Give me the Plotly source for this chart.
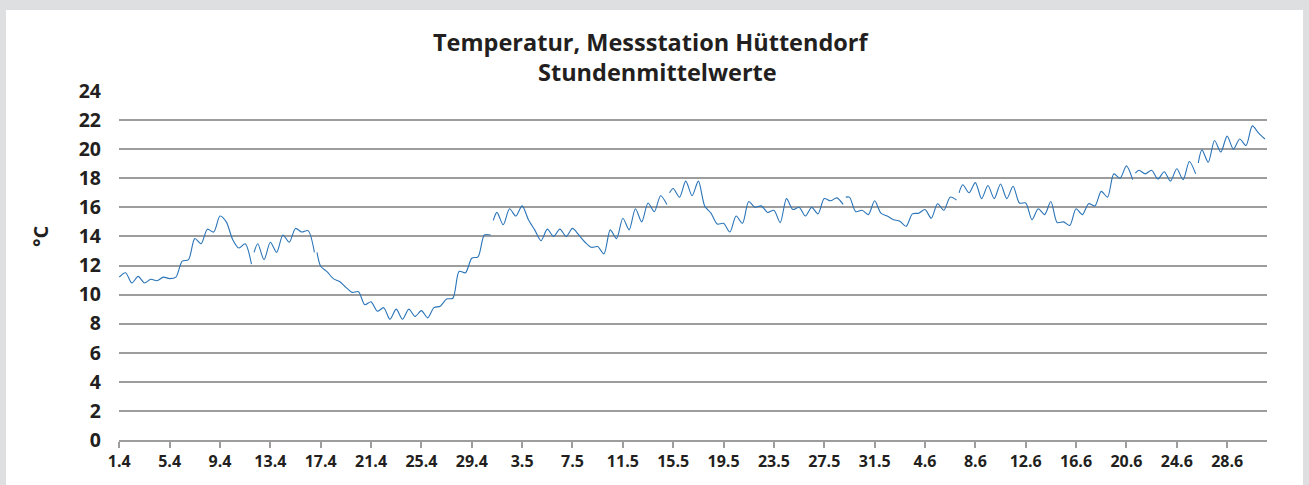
import pandas as pd
import plotly.graph_objects as go

# Hourly-mean temperature, sampled every 12 hours from 1 April 00:00
start_time = "2023-04-01 00:00"
temps = [
    11.2, 11.5, 10.8, 11.25, 10.8, 11.05, 10.95, 11.2, 11.1, 11.2,
    12.3, 12.4, 13.85, 13.5, 14.5, 14.3, 15.4, 15.0, 13.8, 13.2,
    13.5, 12.1, 13.5, 12.4, 13.6, 12.9, 14.1, 13.6, 14.55, 14.3,
    14.4, 12.9, 11.95, 11.58, 11.1, 10.9, 10.5, 10.15, 10.2, 9.3,
    9.5, 8.85, 9.1, 8.3, 9.0, 8.3, 9.0, 8.5, 8.9, 8.4,
    9.1, 9.2, 9.7, 9.75, 11.6, 11.5, 12.5, 12.6, 14.1, 14.1,
    15.65, 14.8, 15.9, 15.4, 16.1, 15.15, 14.45, 13.7, 14.5, 14.0,
    14.5, 14.0, 14.55, 14.1, 13.6, 13.25, 13.3, 12.8, 14.45, 13.85,
    15.25, 14.45, 15.9, 15.0, 16.3, 15.7, 16.8, 16.2, 17.3, 16.7,
    17.8, 16.8, 17.8, 16.1, 15.6, 14.85, 14.9, 14.3, 15.4, 14.9,
    16.4, 16.0, 16.1, 15.65, 15.8, 14.95, 16.6, 15.85, 16.0, 15.4,
    16.0, 15.55, 16.6, 16.45, 16.65, 16.2, 16.7, 15.7, 15.8, 15.5,
    16.45, 15.6, 15.4, 15.15, 15.05, 14.7, 15.55, 15.6, 15.85, 15.25,
    16.25, 15.8, 16.7, 16.5, 17.55, 17.0, 17.7, 16.6, 17.5, 16.6,
    17.6, 16.6, 17.45, 16.3, 16.3, 15.15, 15.9, 15.5, 16.4, 14.95,
    15.0, 14.75, 15.9, 15.5, 16.25, 16.1, 17.1, 16.7, 18.3, 18.0,
    18.85, 17.9, 18.55, 18.3, 18.55, 17.95, 18.45, 17.8, 18.65, 17.9,
    19.15, 18.3, 19.95, 19.1, 20.6, 19.8, 20.9, 20.0, 20.7, 20.25,
    21.6, 21.1, 20.7,
]
# recording gaps: sample index after which the logger dropped out,
# and the first hourly mean once recording resumed (5 h later)
gap_after = [21, 31, 59, 87, 115, 133, 161, 171]
resume_temps = [12.9, 12.9, 15.1, 17.0, 16.7, 17.0, 18.35, 19.05]
RESUME_HOURS = 5

tick_labels = ["1.4", "5.4", "9.4", "13.4", "17.4", "21.4", "25.4", "29.4",
               "3.5", "7.5", "11.5", "15.5", "19.5", "23.5", "27.5", "31.5",
               "4.6", "8.6", "12.6", "16.6", "20.6", "24.6", "28.6"]
y_ticks = list(range(0, 25, 2))

times = pd.date_range(start_time, periods=len(temps), freq="12h")
resume = dict(zip(gap_after, resume_temps))
xs, ys = [], []
for i, (t, v) in enumerate(zip(times, temps)):
    xs.append(t)
    ys.append(v)
    if i in resume:
        xs.append(t + pd.Timedelta(hours=2))
        ys.append(None)
        xs.append(t + pd.Timedelta(hours=RESUME_HOURS))
        ys.append(resume[i])

tick_dates = pd.date_range(start_time, periods=len(tick_labels), freq="4D")

W, H = 1309, 485
L, R, T, B = 119, 42, 91, 45
PW, PH = W - L - R, H - T - B

def px_x(p):
    return (p - L) / PW

def px_y(p):
    return 1 - (p - T) / PH

FONT = "Open Sans"
TXT = "#231f20"
GRID = "#9d9d9d"

fig = go.Figure()
fig.add_trace(go.Scatter(
    x=xs, y=ys, mode="lines",
    line=dict(color="#2a74b8", width=1.1, shape="spline", smoothing=0.8),
    connectgaps=False, hoverinfo="skip", showlegend=False,
))

fig.update_layout(
    width=W, height=H,
    margin=dict(l=L, r=R, t=T, b=B),
    paper_bgcolor="#dedfe1",
    plot_bgcolor="white",
    font=dict(family=FONT, color=TXT),
    shapes=[dict(
        type="rect", xref="paper", yref="paper", layer="below",
        x0=px_x(6), x1=px_x(1303), y0=px_y(10), y1=px_y(H + 5),
        fillcolor="white", line=dict(width=0),
    )],
    annotations=[
        dict(text="<b>Temperatur, Messstation Hüttendorf</b>", xref="paper", yref="paper",
             x=px_x(651), y=px_y(42), xanchor="center", yanchor="middle",
             showarrow=False, font=dict(size=23.5, family=FONT, color=TXT)),
        dict(text="<b>Stundenmittelwerte</b>", xref="paper", yref="paper",
             x=px_x(657), y=px_y(72), xanchor="center", yanchor="middle",
             showarrow=False, font=dict(size=23.5, family=FONT, color=TXT)),
        dict(text="<b>°C</b>", xref="paper", yref="paper",
             x=px_x(40), y=px_y(236), xanchor="center", yanchor="middle",
             textangle=-90, showarrow=False, font=dict(size=20, family=FONT, color=TXT)),
    ],
)

fig.update_xaxes(
    type="date",
    range=[pd.Timestamp(start_time) - pd.Timedelta(minutes=30),
           pd.Timestamp("2023-07-01 04:00")],
    tickvals=tick_dates, ticktext=[f"<b>{s}</b>" for s in tick_labels],
    tickfont=dict(size=16, family=FONT, color=TXT),
    showgrid=False, zeroline=False,
    showline=True, linecolor=GRID, linewidth=1.5,
    ticks="outside", ticklen=6, tickcolor=GRID, tickwidth=1.5,
)
fig.update_yaxes(
    range=[0, 24],
    tickvals=y_ticks, ticktext=[f"<b>{v}</b>" for v in y_ticks],
    tickfont=dict(size=19.5, family=FONT, color=TXT),
    showgrid=True, gridcolor=GRID, gridwidth=1.5,
    zeroline=False, showline=False,
    ticks="", ticklabelstandoff=17,
)

fig.write_html("out.html")
